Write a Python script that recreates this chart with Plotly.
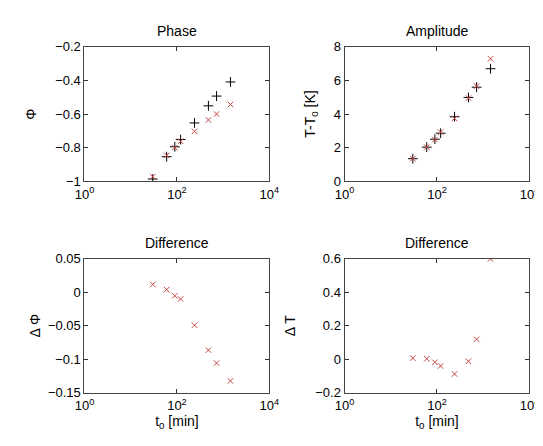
import plotly.graph_objects as go

t0 = [30, 60, 90, 120, 240, 480, 720, 1440]

phase_black = [-0.987, -0.854, -0.795, -0.752, -0.653, -0.551, -0.493, -0.409]
phase_red = [-0.973, -0.846, -0.800, -0.762, -0.703, -0.635, -0.600, -0.543]
amp_black = [1.34, 2.03, 2.50, 2.86, 3.84, 4.99, 5.60, 6.70]
amp_red = [1.34, 2.03, 2.48, 2.92, 3.74, 4.95, 5.66, 7.29]
diff_phase = [0.0114, 0.0037, -0.0054, -0.0102, -0.0493, -0.0864, -0.1057, -0.1322]
diff_amp = [0.007, 0.003, -0.018, -0.040, -0.088, -0.012, 0.119, 0.598]

xtick_vals = [1, 100, 10000]
xtick_text = ["10<sup>0</sup>", "10<sup>2</sup>", "10<sup>4</sup>"]

RED = "rgb(200,70,70)"
FONT = "Liberation Sans, Arial, sans-serif"
TICK = 13
TITLE = 14

fig = go.Figure()

def black_plus(x, y, xa, ya):
    fig.add_trace(go.Scatter(x=x, y=y, mode="markers", xaxis=xa, yaxis=ya,
                             marker=dict(symbol="cross-thin", size=7,
                                         line=dict(color="black", width=1)),
                             showlegend=False))

def red_x(x, y, xa, ya):
    fig.add_trace(go.Scatter(x=x, y=y, mode="markers", xaxis=xa, yaxis=ya,
                             marker=dict(symbol="x-thin", size=5.5,
                                         line=dict(color=RED, width=1)),
                             showlegend=False))

black_plus(t0, phase_black, "x", "y")
red_x(t0, phase_red, "x", "y")
black_plus(t0, amp_black, "x2", "y2")
red_x(t0, amp_red, "x2", "y2")
red_x(t0, diff_phase, "x3", "y3")
red_x(t0, diff_amp, "x4", "y4")

W, H = 543, 446
xl = [69 / W, 261 / W]
xr = [339 / W, 531 / W]
yt = [1 - 172 / H, 1 - 33 / H]
yb = [1 - 391 / H, 1 - 252 / H]

def xaxis(dom, anchor, title=None):
    d = dict(domain=dom, anchor=anchor, type="log", range=[0, 4],
             tickvals=xtick_vals, ticktext=xtick_text, ticks="inside", ticklen=4,
             tickcolor="#333", showline=True, linecolor="#444", linewidth=1,
             mirror="ticks", showgrid=False, zeroline=False, ticklabelstandoff=1,
             tickfont=dict(size=TICK, color="black", family=FONT))
    if title:
        d["title"] = dict(text=title, font=dict(size=TICK + 1, color="black", family=FONT), standoff=0)
    return d

def yaxis(dom, anchor, rng, dt, title, so):
    d = dict(domain=dom, anchor=anchor, range=rng, dtick=dt, tick0=rng[0],
             ticks="inside", ticklen=4, tickcolor="#333", showline=True,
             linecolor="#444", linewidth=1, mirror="ticks", showgrid=False,
             zeroline=False, tickfont=dict(size=TICK, color="black", family=FONT),
             title=dict(text=title, font=dict(size=TICK + 1, color="black", family=FONT), standoff=so))
    return d

fig.update_layout(
    width=W, height=H, margin=dict(l=0, r=0, t=0, b=0),
    paper_bgcolor="white", plot_bgcolor="white",
    font=dict(family=FONT, size=TICK, color="black"),
    xaxis=xaxis(xl, "y"),
    yaxis=yaxis(yt, "x", [-1, -0.2], 0.2, "Φ", 15),
    xaxis2=xaxis(xr, "y2"),
    yaxis2=yaxis(yt, "x2", [0, 8], 2, "T-T<sub>0</sub> [K]", 14),
    xaxis3=xaxis(xl, "y3", "t<sub>0</sub> [min]"),
    yaxis3=yaxis(yb, "x3", [-0.15, 0.05], 0.05, "Δ Φ", 4),
    xaxis4=xaxis(xr, "y4", "t<sub>0</sub> [min]"),
    yaxis4=yaxis(yb, "x4", [-0.2, 0.6], 0.2, "Δ T", 16),
)

titles = [("Phase", (xl[0] + xl[1]) / 2, 1 - 17 / H),
          ("Amplitude", (xr[0] + xr[1]) / 2, 1 - 17 / H),
          ("Difference", (xl[0] + xl[1]) / 2, 1 - 236 / H),
          ("Difference", (xr[0] + xr[1]) / 2, 1 - 236 / H)]
for txt, x, y in titles:
    fig.add_annotation(text=txt, x=x, y=y, xref="paper", yref="paper",
                       showarrow=False, font=dict(size=TITLE, color="black", family=FONT),
                       xanchor="center", yanchor="middle")

fig.write_html("out.html")
